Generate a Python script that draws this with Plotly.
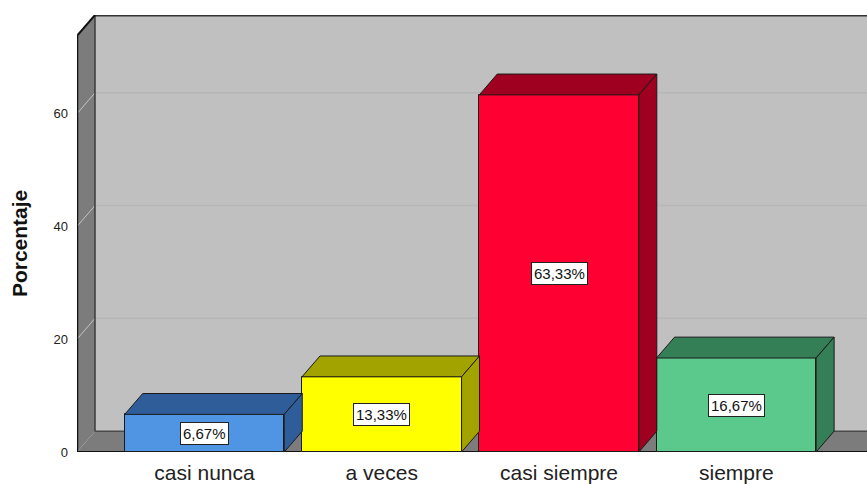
import plotly.graph_objects as go

categories = ["casi nunca", "a veces", "casi siempre", "siempre"]
values = [6.67, 13.33, 63.33, 16.67]
front_colors = ["#5095e3", "#ffff00", "#ff0033", "#5bc98c"]
dark_colors = ["#2f5d9a", "#a3a300", "#a0001f", "#357f57"]
y_ticks = [0, 20, 40, 60]
y_title = "Porcentaje"

BW = 0.9      # bar width (category units)
DX = 0.1015   # depth offset x (category units)
DY = 3.7      # depth offset y (value units)
X0, X1 = -0.719, 3.737
WALL_TOP = 73.8
Y_TOP = 77.5

fig = go.Figure()

shapes = []
# back wall
shapes.append(dict(type="rect", xref="x", yref="y", x0=X0 + DX, x1=X1 + 1, y0=DY, y1=WALL_TOP + DY,
                   fillcolor="#c0c0c0", line=dict(width=0), layer="below"))
# left wall
shapes.append(dict(type="path", xref="x", yref="y",
                   path=f"M {X0},0 L {X0},{WALL_TOP} L {X0+DX},{WALL_TOP+DY} L {X0+DX},{DY} Z",
                   fillcolor="#7c7c7c", line=dict(width=0), layer="below"))
# floor
shapes.append(dict(type="path", xref="x", yref="y",
                   path=f"M {X0},0 L {X1+1},0 L {X1+1},{DY} L {X0+DX},{DY} Z",
                   fillcolor="#7c7c7c", line=dict(width=0), layer="below"))
# gridlines
for g in y_ticks[1:]:
    shapes.append(dict(type="line", xref="x", yref="y", x0=X0 + DX, x1=X1 + 1, y0=g + DY, y1=g + DY,
                       line=dict(color="#b6b6b6", width=1.5), layer="below"))
    shapes.append(dict(type="line", xref="x", yref="y", x0=X0, x1=X0 + DX, y0=g, y1=g + DY,
                       line=dict(color="#c4c4c4", width=1), layer="below"))
# back wall edges
shapes.append(dict(type="line", xref="x", yref="y", x0=X0 + DX, x1=X0 + DX, y0=DY, y1=WALL_TOP + DY,
                   line=dict(color="#3a3a3a", width=1.5), layer="below"))
shapes.append(dict(type="line", xref="x", yref="y", x0=X0 + DX, x1=X1 + 1, y0=DY, y1=DY,
                   line=dict(color="#4a4a4a", width=1.5), layer="below"))
shapes.append(dict(type="line", xref="x", yref="y", x0=X0 + DX, x1=X1 + 1, y0=WALL_TOP + DY, y1=WALL_TOP + DY,
                   line=dict(color="#333333", width=3), layer="below"))
# left wall outline
shapes.append(dict(type="line", xref="x", yref="y", x0=X0, x1=X0, y0=0, y1=WALL_TOP,
                   line=dict(color="#111111", width=2.5), layer="below"))
shapes.append(dict(type="line", xref="x", yref="y", x0=X0, x1=X0 + DX, y0=WALL_TOP, y1=WALL_TOP + DY,
                   line=dict(color="#111111", width=2), layer="below"))
# floor front edge
shapes.append(dict(type="line", xref="x", yref="y", x0=X0, x1=X1 + 1, y0=0, y1=0,
                   line=dict(color="#111111", width=2), layer="below"))

xs = list(range(len(categories)))

# front faces
fig.add_trace(go.Bar(x=xs, y=values, width=BW, marker=dict(color=front_colors, line=dict(color="#1a1a1a", width=1)),
                     hoverinfo="skip", showlegend=False))

# top and side faces
for i, v in enumerate(values):
    l, r = i - BW / 2, i + BW / 2
    fig.add_trace(go.Scatter(x=[l, r, r + DX, l + DX, l], y=[v, v, v + DY, v + DY, v],
                             fill="toself", fillcolor=dark_colors[i], mode="lines",
                             line=dict(color="#1a1a1a", width=1), hoverinfo="skip", showlegend=False))
    fig.add_trace(go.Scatter(x=[r, r + DX, r + DX, r, r], y=[0, DY, v + DY, v, 0],
                             fill="toself", fillcolor=dark_colors[i], mode="lines",
                             line=dict(color="#1a1a1a", width=1), hoverinfo="skip", showlegend=False))

annotations = []
for i, v in enumerate(values):
    annotations.append(dict(x=i, y=v / 2, xref="x", yref="y", showarrow=False,
                            text=f"{v:.2f}".replace(".", ",") + "%",
                            font=dict(family="Liberation Sans, Arial", size=15, color="#111111"),
                            bgcolor="white", bordercolor="#222222", borderwidth=1, borderpad=2))
annotations.append(dict(x=-0.072, y=0.476, xref="paper", yref="paper", showarrow=False,
                        text=f"<b>{y_title}</b>", textangle=-90, xanchor="center", yanchor="middle",
                        font=dict(family="Liberation Sans, Arial", size=21, color="#111111")))

fig.update_layout(
    width=867, height=484,
    margin=dict(l=77, r=0, t=15, b=30),
    paper_bgcolor="white", plot_bgcolor="white",
    shapes=shapes, annotations=annotations,
    bargap=0,
    xaxis=dict(range=[X0, X1], tickvals=xs, ticktext=categories, showgrid=False, zeroline=False,
               showline=False, ticks="", ticklabelstandoff=6,
               tickfont=dict(family="Liberation Sans, Arial", size=21, color="#222222"),
               fixedrange=True),
    yaxis=dict(range=[0, Y_TOP], tickvals=y_ticks, showgrid=False, zeroline=False, showline=False,
               ticks="", ticklabelstandoff=8,
               tickfont=dict(family="Liberation Sans, Arial", size=13, color="#222222"),
               fixedrange=True),
)

fig.write_html("out.html")
